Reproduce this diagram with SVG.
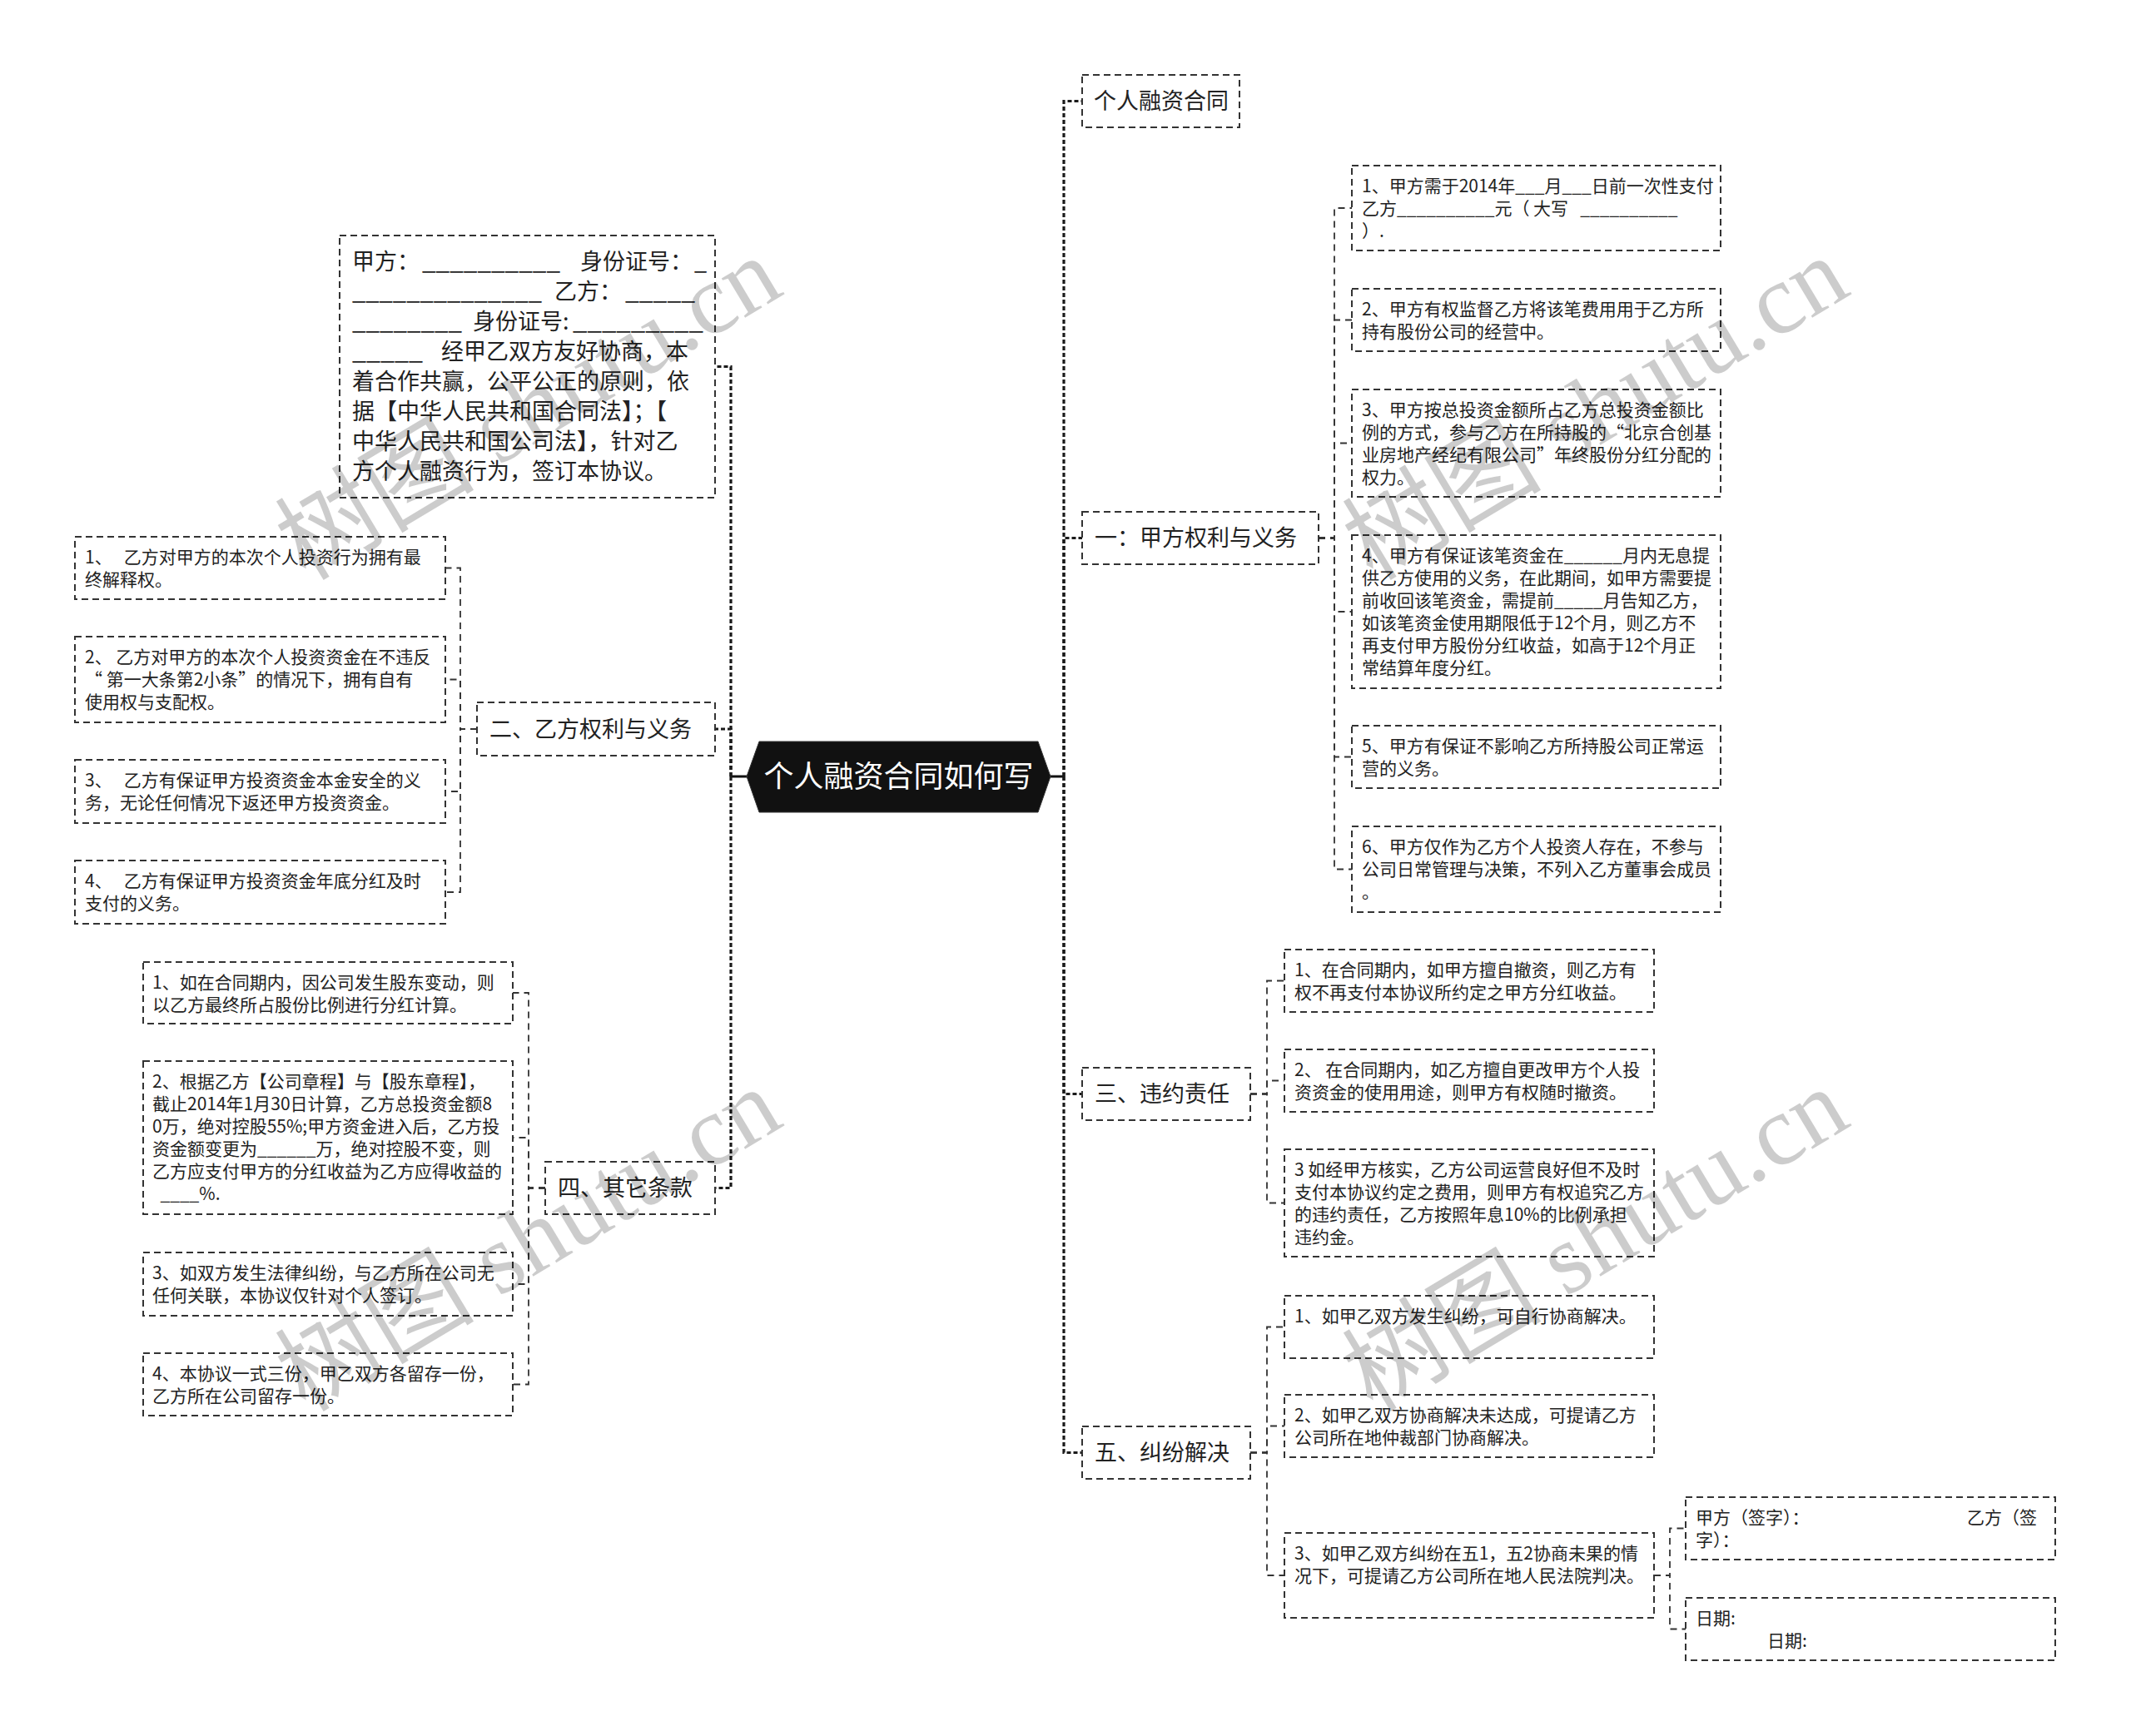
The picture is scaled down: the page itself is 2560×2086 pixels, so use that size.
<svg xmlns="http://www.w3.org/2000/svg" width="2560" height="2086" viewBox="0 0 2560 2086">
<style>
text{font-family:"Noto Sans CJK SC","Noto Sans",sans-serif;fill:#222}
.box{fill:#fff;stroke:#333;stroke-width:2;stroke-dasharray:8 5}
.t1{font-size:27px}
.t2{font-size:21px}
.c1{fill:none;stroke:#1a1a1a;stroke-width:3.2;stroke-dasharray:5 3}
.c2{fill:none;stroke:#333;stroke-width:1.8;stroke-dasharray:8 6}
.stub{fill:none;stroke:#111;stroke-width:3}
.wm{font-family:"Liberation Serif","Noto Sans CJK SC",serif;font-size:120px;fill:#000;fill-opacity:0.2}
</style>
<rect width="2560" height="2086" fill="#fff"/>

<g id="connectors">
  <path class="stub" d="M897,933 H878 M1262,933 H1278"/>
  <path class="c1" d="M878,933 V440.5 H859"/>
  <path class="c1" d="M878,933 V876 H859"/>
  <path class="c1" d="M878,933 V1427.5 H859"/>
  <path class="c1" d="M1278,933 V121.5 H1300"/>
  <path class="c1" d="M1278,933 V646.5 H1300"/>
  <path class="c1" d="M1278,933 V1314.5 H1300"/>
  <path class="c1" d="M1278,933 V1745.5 H1300"/>
  <path class="c2" d="M1584,646.5 H1603 V250 H1624"/>
  <path class="c2" d="M1584,646.5 H1603 V384.5 H1624"/>
  <path class="c2" d="M1584,646.5 H1603 V532.5 H1624"/>
  <path class="c2" d="M1584,646.5 H1603 V735 H1624"/>
  <path class="c2" d="M1584,646.5 H1603 V909.5 H1624"/>
  <path class="c2" d="M1584,646.5 H1603 V1044.5 H1624"/>
  <path class="c2" d="M1502,1314.5 H1522 V1178.5 H1543"/>
  <path class="c2" d="M1502,1314.5 H1522 V1298.5 H1543"/>
  <path class="c2" d="M1502,1314.5 H1522 V1445.5 H1543"/>
  <path class="c2" d="M1502,1745.5 H1522 V1594.5 H1543"/>
  <path class="c2" d="M1502,1745.5 H1522 V1713.5 H1543"/>
  <path class="c2" d="M1502,1745.5 H1522 V1893 H1543"/>
  <path class="c2" d="M1987,1893 H2006 V1836.5 H2025"/>
  <path class="c2" d="M1987,1893 H2006 V1957.5 H2025"/>
  <path class="c2" d="M573,876 H553 V682.5 H535"/>
  <path class="c2" d="M573,876 H553 V816.5 H535"/>
  <path class="c2" d="M573,876 H553 V951 H535"/>
  <path class="c2" d="M573,876 H553 V1072 H535"/>
  <path class="c2" d="M655,1427.5 H635 V1193 H616"/>
  <path class="c2" d="M655,1427.5 H635 V1367 H616"/>
  <path class="c2" d="M655,1427.5 H635 V1543 H616"/>
  <path class="c2" d="M655,1427.5 H635 V1663.5 H616"/>
</g>

<g id="root">
  <polygon points="897,933 912,891 1247,891 1262,933 1247,976 912,976" fill="#111" stroke="#333" stroke-width="1"/>
  <text x="1079.5" y="946" text-anchor="middle" font-size="36" style="fill:#fff">个人融资合同如何写</text>
</g>

<g id="intro">
  <rect class="box" x="408" y="283" width="451" height="315"/>
  <text class="t1" x="423" y="324">甲方：</text>
  <text class="t1" x="507" y="324" textLength="166" lengthAdjust="spacingAndGlyphs">__________</text>
  <text class="t1" x="697" y="324">身份证号：</text>
  <text class="t1" x="834" y="324">_</text>
  <text class="t1" x="423" y="360" textLength="228" lengthAdjust="spacingAndGlyphs">______________</text>
  <text class="t1" x="666" y="360">乙方：</text>
  <text class="t1" x="751" y="360" textLength="84" lengthAdjust="spacingAndGlyphs">_____</text>
  <text class="t1" x="423" y="396" textLength="132" lengthAdjust="spacingAndGlyphs">________</text>
  <text class="t1" x="568" y="396">身份证号:</text>
  <text class="t1" x="688" y="396" textLength="157" lengthAdjust="spacingAndGlyphs">_________</text>
  <text class="t1" x="423" y="432" textLength="85" lengthAdjust="spacingAndGlyphs">_____</text>
  <text class="t1" x="530" y="432">经甲乙双方友好协商，本</text>
  <text class="t1" x="423" y="468">着合作共赢，公平公正的原则，依</text>
  <text class="t1" x="423" y="504">据【中华人民共和国合同法】；【</text>
  <text class="t1" x="423" y="540">中华人民共和国公司法】，针对乙</text>
  <text class="t1" x="423" y="576">方个人融资行为，签订本协议。</text>
</g>

<g id="n2">
  <rect class="box" x="573" y="844" width="286" height="64"/>
  <text class="t1" x="588" y="885.5">二、乙方权利与义务</text>
</g>
<g id="n2-1">
  <rect class="box" x="90" y="645" width="445" height="75"/>
  <text class="t2" x="102" y="677">1、&#160;&#160;&#160;乙方对甲方的本次个人投资行为拥有最<tspan x="102" dy="27">终解释权。</tspan></text>
</g>
<g id="n2-2">
  <rect class="box" x="90" y="765" width="445" height="103"/>
  <text class="t2" x="102" y="797">2、&#160;乙方对甲方的本次个人投资资金在不违反<tspan x="102" dy="27">“ 第一大条第2小条”的情况下，拥有自有</tspan><tspan x="102" dy="27">使用权与支配权。</tspan></text>
</g>
<g id="n2-3">
  <rect class="box" x="90" y="913" width="445" height="76"/>
  <text class="t2" x="102" y="945">3、&#160;&#160;&#160;乙方有保证甲方投资资金本金安全的义<tspan x="102" dy="27">务，无论任何情况下返还甲方投资资金。</tspan></text>
</g>
<g id="n2-4">
  <rect class="box" x="90" y="1034" width="445" height="76"/>
  <text class="t2" x="102" y="1066">4、&#160;&#160;&#160;乙方有保证甲方投资资金年底分红及时<tspan x="102" dy="27">支付的义务。</tspan></text>
</g>

<g id="n4">
  <rect class="box" x="655" y="1396" width="204" height="63"/>
  <text class="t1" x="670" y="1437">四、其它条款</text>
</g>
<g id="n4-1">
  <rect class="box" x="172" y="1156" width="444" height="74"/>
  <text class="t2" x="183" y="1188">1、如在合同期内，因公司发生股东变动，则<tspan x="183" dy="27">以乙方最终所占股份比例进行分红计算。</tspan></text>
</g>
<g id="n4-2">
  <rect class="box" x="172" y="1275" width="444" height="184"/>
  <text class="t2" x="183" y="1307">2、根据乙方【公司章程】与【股东章程】，<tspan x="183" dy="27">截止2014年1月30日计算，乙方总投资金额8</tspan><tspan x="183" dy="27">0万，绝对控股55%;甲方资金进入后，乙方投</tspan><tspan x="183" dy="27">资金额变更为______万，绝对控股不变，则</tspan><tspan x="183" dy="27">乙方应支付甲方的分红收益为乙方应得收益的</tspan><tspan x="183" dy="27">&#160;&#160;____%.</tspan></text>
</g>
<g id="n4-3">
  <rect class="box" x="172" y="1505" width="444" height="76"/>
  <text class="t2" x="183" y="1537">3、如双方发生法律纠纷，与乙方所在公司无<tspan x="183" dy="27">任何关联，本协议仅针对个人签订。</tspan></text>
</g>
<g id="n4-4">
  <rect class="box" x="172" y="1626" width="444" height="75"/>
  <text class="t2" x="183" y="1658">4、本协议一式三份，甲乙双方各留存一份，<tspan x="183" dy="27">乙方所在公司留存一份。</tspan></text>
</g>

<g id="n0">
  <rect class="box" x="1300" y="90" width="189" height="63"/>
  <text class="t1" x="1314" y="131">个人融资合同</text>
</g>

<g id="n1">
  <rect class="box" x="1300" y="615" width="284" height="63"/>
  <text class="t1" x="1315" y="656">一：甲方权利与义务</text>
</g>
<g id="n1-1">
  <rect class="box" x="1624" y="199" width="443" height="102"/>
  <text class="t2" x="1636" y="231">1、甲方需于2014年___月___日前一次性支付<tspan x="1636" dy="27">乙方__________元（ 大写&#160;&#160;&#160;__________</tspan><tspan x="1636" dy="27">）.</tspan></text>
</g>
<g id="n1-2">
  <rect class="box" x="1624" y="347" width="443" height="75"/>
  <text class="t2" x="1636" y="379">2、甲方有权监督乙方将该笔费用用于乙方所<tspan x="1636" dy="27">持有股份公司的经营中。</tspan></text>
</g>
<g id="n1-3">
  <rect class="box" x="1624" y="468" width="443" height="129"/>
  <text class="t2" x="1636" y="500">3、甲方按总投资金额所占乙方总投资金额比<tspan x="1636" dy="27">例的方式，参与乙方在所持股的“北京合创基</tspan><tspan x="1636" dy="27">业房地产经纪有限公司”年终股份分红分配的</tspan><tspan x="1636" dy="27">权力。</tspan></text>
</g>
<g id="n1-4">
  <rect class="box" x="1624" y="643" width="443" height="184"/>
  <text class="t2" x="1636" y="675">4、甲方有保证该笔资金在______月内无息提<tspan x="1636" dy="27">供乙方使用的义务，在此期间，如甲方需要提</tspan><tspan x="1636" dy="27">前收回该笔资金，需提前_____月告知乙方，</tspan><tspan x="1636" dy="27">如该笔资金使用期限低于12个月，则乙方不</tspan><tspan x="1636" dy="27">再支付甲方股份分红收益，如高于12个月正</tspan><tspan x="1636" dy="27">常结算年度分红。</tspan></text>
</g>
<g id="n1-5">
  <rect class="box" x="1624" y="872" width="443" height="75"/>
  <text class="t2" x="1636" y="904">5、甲方有保证不影响乙方所持股公司正常运<tspan x="1636" dy="27">营的义务。</tspan></text>
</g>
<g id="n1-6">
  <rect class="box" x="1624" y="993" width="443" height="103"/>
  <text class="t2" x="1636" y="1025">6、甲方仅作为乙方个人投资人存在，不参与<tspan x="1636" dy="27">公司日常管理与决策，不列入乙方董事会成员</tspan><tspan x="1636" dy="27">。</tspan></text>
</g>

<g id="n3">
  <rect class="box" x="1300" y="1283" width="202" height="63"/>
  <text class="t1" x="1315" y="1324">三、违约责任</text>
</g>
<g id="n3-1">
  <rect class="box" x="1543" y="1141" width="444" height="75"/>
  <text class="t2" x="1555" y="1173">1、在合同期内，如甲方擅自撤资，则乙方有<tspan x="1555" dy="27">权不再支付本协议所约定之甲方分红收益。</tspan></text>
</g>
<g id="n3-2">
  <rect class="box" x="1543" y="1261" width="444" height="75"/>
  <text class="t2" x="1555" y="1293">2、&#160;在合同期内，如乙方擅自更改甲方个人投<tspan x="1555" dy="27">资资金的使用用途，则甲方有权随时撤资。</tspan></text>
</g>
<g id="n3-3">
  <rect class="box" x="1543" y="1381" width="444" height="129"/>
  <text class="t2" x="1555" y="1413">3 如经甲方核实，乙方公司运营良好但不及时<tspan x="1555" dy="27">支付本协议约定之费用，则甲方有权追究乙方</tspan><tspan x="1555" dy="27">的违约责任，乙方按照年息10%的比例承担</tspan><tspan x="1555" dy="27">违约金。</tspan></text>
</g>

<g id="n5">
  <rect class="box" x="1300" y="1714" width="202" height="63"/>
  <text class="t1" x="1315" y="1755">五、纠纷解决</text>
</g>
<g id="n5-1">
  <rect class="box" x="1543" y="1557" width="444" height="75"/>
  <text class="t2" x="1555" y="1589">1、如甲乙双方发生纠纷，可自行协商解决。</text>
</g>
<g id="n5-2">
  <rect class="box" x="1543" y="1676" width="444" height="75"/>
  <text class="t2" x="1555" y="1708">2、如甲乙双方协商解决未达成，可提请乙方<tspan x="1555" dy="27">公司所在地仲裁部门协商解决。</tspan></text>
</g>
<g id="n5-3">
  <rect class="box" x="1543" y="1842" width="444" height="102"/>
  <text class="t2" x="1555" y="1874">3、如甲乙双方纠纷在五1，五2协商未果的情<tspan x="1555" dy="27">况下，可提请乙方公司所在地人民法院判决。</tspan></text>
</g>
<g id="n5-3-1">
  <rect class="box" x="2025" y="1799" width="444" height="75"/>
  <text class="t2" x="2037" y="1831">甲方（签字）：<tspan x="2363">乙方（签</tspan><tspan x="2037" dy="27">字）：</tspan></text>
</g>
<g id="n5-3-2">
  <rect class="box" x="2025" y="1920" width="444" height="75"/>
  <text class="t2" x="2037" y="1952">日期:<tspan x="2123" dy="27">日期:</tspan></text>
</g>

<g id="watermark">
  <text class="wm" transform="translate(367,699) rotate(-31)">树图 shutu.cn</text>
  <text class="wm" transform="translate(1649,699) rotate(-31)">树图 shutu.cn</text>
  <text class="wm" transform="translate(367,1698) rotate(-31)">树图 shutu.cn</text>
  <text class="wm" transform="translate(1649,1698) rotate(-31)">树图 shutu.cn</text>
</g>
</svg>
